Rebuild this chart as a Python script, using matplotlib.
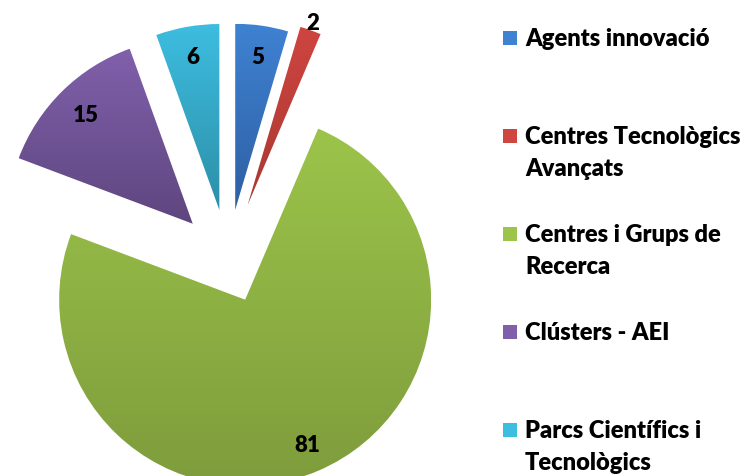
import numpy as np
import matplotlib
matplotlib.use("Agg")
import matplotlib.pyplot as plt
from matplotlib.colors import LinearSegmentedColormap

labels = ["Agents innovació", "Centres Tecnològics\nAvançats", "Centres i Grups de\nRecerca",
          "Clústers - AEI", "Parcs Científics i\nTecnològics"]
values = [5, 2, 81, 15, 6]
explode = [0.27, 0.31, 0.235, 0.27, 0.27]
label_dist = [0.83, 1.04, 0.85, 0.82, 0.83]
top_colors = ["#3f82d2", "#cf4540", "#9cc44a", "#8060ab", "#3dbde0"]
bottom_colors = ["#2e5fa3", "#a93833", "#7e9c3c", "#5e467f", "#2d8fa8"]

W, H = 744, 476
fig = plt.figure(figsize=(W / 100, H / 100), dpi=100)
ax = fig.add_axes([0, 0, 1, 1])

radius = 186
center = (228, H - 259.5)
# pie's explode is an absolute offset, so scale it by the radius
wedges, _ = ax.pie(values, explode=[e * radius for e in explode], startangle=90,
                   counterclock=False, radius=radius, center=center,
                   wedgeprops=dict(linewidth=0, edgecolor="none"))

grad = np.linspace(0, 1, 256).reshape(-1, 1)
for w, c1, c2, val, d in zip(wedges, top_colors, bottom_colors, values, label_dist):
    w.set_facecolor("none")
    ext = w.get_path().get_extents()
    cmap = LinearSegmentedColormap.from_list("g", [c1, c2])
    im = ax.imshow(grad, cmap=cmap, aspect="auto", interpolation="bilinear",
                   extent=[ext.x0, ext.x1, ext.y0, ext.y1], origin="upper")
    im.set_clip_path(w)
    mid = np.deg2rad((w.theta1 + w.theta2) / 2)
    cx, cy = w.center
    ax.text(cx + d * radius * np.cos(mid), cy + d * radius * np.sin(mid), str(val),
            ha="center", va="center", fontsize=16, fontweight="heavy",
            family=["Lato", "DejaVu Sans"], color="black")

ax.set_xlim(0, W)
ax.set_ylim(0, H)
ax.set_aspect("auto")
ax.axis("off")

# legend, drawn by hand so the first lines sit evenly apart like the original
for i, (lab, w) in enumerate(zip(labels, wedges)):
    base = 46 + 98 * i
    ax.add_patch(plt.Rectangle((503, H - base + 1), 14, 14, color=top_colors[i], lw=0))
    for j, line in enumerate(lab.split("\n")):
        ax.text(525, H - base - 32 * j, line, ha="left", va="baseline", fontsize=17,
                fontweight="heavy", family=["Lato", "DejaVu Sans"], color="black")

fig.savefig("out.png", dpi=100)
